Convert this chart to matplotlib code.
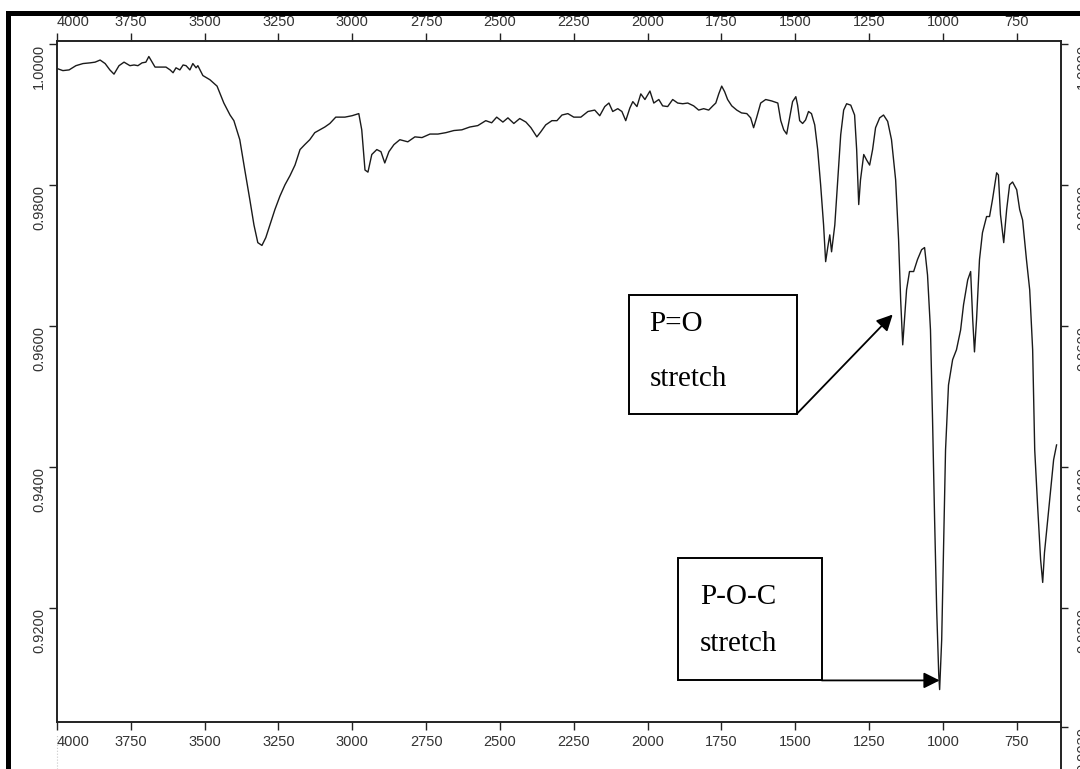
import matplotlib
matplotlib.use("Agg")
import matplotlib.pyplot as plt
from matplotlib.patches import Rectangle
from matplotlib.lines import Line2D

# FTIR spectrum (wavenumber in cm-1, transmittance)
wavenumber = [4000, 3980, 3959, 3936, 3912, 3888, 3871, 3854, 3837, 3821, 3807, 3790, 3773, 3753,
              3739, 3726, 3712, 3699, 3689, 3678, 3668, 3648, 3631, 3617, 3607, 3597, 3584, 3573,
              3563, 3550, 3540, 3529, 3523, 3506, 3482, 3458, 3435, 3414, 3401, 3381, 3364, 3347,
              3333, 3320, 3306, 3293, 3279, 3262, 3245, 3228, 3211, 3194, 3177, 3161, 3144, 3127,
              3110, 3093, 3076, 3056, 3025, 3001, 2978, 2968, 2957, 2947, 2934, 2917, 2903, 2890,
              2876, 2859, 2839, 2812, 2788, 2764, 2737, 2710, 2683, 2656, 2629, 2602, 2575, 2548,
              2528, 2511, 2490, 2473, 2453, 2433, 2412, 2395, 2375, 2362, 2345, 2324, 2307, 2290,
              2270, 2250, 2226, 2202, 2179, 2162, 2145, 2131, 2118, 2101, 2087, 2074, 2060, 2050,
              2036, 2023, 2009, 1992, 1979, 1962, 1949, 1932, 1915, 1898, 1881, 1864, 1844, 1827,
              1810, 1793, 1779, 1769, 1759, 1749, 1739, 1729, 1715, 1698, 1682, 1664, 1651, 1641,
              1631, 1617, 1600, 1580, 1559, 1549, 1539, 1529, 1519, 1509, 1498, 1492, 1485, 1475,
              1465, 1455, 1445, 1434, 1424, 1414, 1404, 1397, 1390, 1383, 1377, 1366, 1356, 1346,
              1336, 1326, 1312, 1299, 1292, 1285, 1279, 1268, 1258, 1248, 1238, 1228, 1214, 1201,
              1187, 1174, 1160, 1150, 1143, 1136, 1130, 1123, 1113, 1099, 1086, 1072, 1062, 1052,
              1042, 1035, 1028, 1021, 1014, 1011, 1004, 997, 991, 981, 967, 954, 940, 930,
              916, 906, 899, 893, 886, 876, 866, 852, 842, 832, 818, 812, 805, 794,
              784, 774, 764, 750, 740, 730, 717, 706, 696, 689, 679, 669, 662, 656,
              645, 635, 625, 615]
transmittance = [0.9965, 0.9962, 0.9963, 0.9969, 0.9972, 0.9973, 0.9974, 0.9977, 0.9972, 0.9963,
                 0.9957, 0.9969, 0.9974, 0.9969, 0.9970, 0.9969, 0.9973, 0.9974, 0.9982, 0.9974,
                 0.9967, 0.9967, 0.9967, 0.9963, 0.9959, 0.9966, 0.9963, 0.9970, 0.9969, 0.9963,
                 0.9972, 0.9966, 0.9969, 0.9955, 0.9949, 0.9940, 0.9916, 0.9899, 0.9891, 0.9864,
                 0.9821, 0.9779, 0.9743, 0.9718, 0.9714, 0.9725, 0.9743, 0.9765, 0.9784, 0.9800,
                 0.9813, 0.9828, 0.9850, 0.9857, 0.9864, 0.9874, 0.9878, 0.9882, 0.9887, 0.9896,
                 0.9896, 0.9898, 0.9901, 0.9878, 0.9821, 0.9818, 0.9843, 0.9850, 0.9847, 0.9831,
                 0.9847, 0.9857, 0.9864, 0.9861, 0.9868, 0.9867, 0.9872, 0.9872, 0.9874, 0.9877,
                 0.9878, 0.9882, 0.9884, 0.9891, 0.9888, 0.9896, 0.9889, 0.9895, 0.9887, 0.9894,
                 0.9889, 0.9881, 0.9868, 0.9875, 0.9885, 0.9891, 0.9891, 0.9899, 0.9901, 0.9896,
                 0.9896, 0.9904, 0.9906, 0.9898, 0.9911, 0.9916, 0.9904, 0.9908, 0.9904, 0.9891,
                 0.9909, 0.9918, 0.9911, 0.9929, 0.9921, 0.9933, 0.9916, 0.9921, 0.9912, 0.9911,
                 0.9921, 0.9916, 0.9915, 0.9916, 0.9912, 0.9906, 0.9908, 0.9906, 0.9912, 0.9916,
                 0.9929, 0.9940, 0.9932, 0.9921, 0.9912, 0.9906, 0.9902, 0.9901, 0.9895, 0.9881,
                 0.9895, 0.9916, 0.9921, 0.9919, 0.9916, 0.9891, 0.9878, 0.9872, 0.9895, 0.9918,
                 0.9925, 0.9913, 0.9891, 0.9887, 0.9892, 0.9904, 0.9901, 0.9885, 0.9850, 0.9800,
                 0.9743, 0.9691, 0.9711, 0.9729, 0.9705, 0.9743, 0.9807, 0.9871, 0.9906, 0.9915,
                 0.9913, 0.9899, 0.9850, 0.9772, 0.9807, 0.9843, 0.9835, 0.9828, 0.9850, 0.9881,
                 0.9895, 0.9899, 0.9890, 0.9864, 0.9807, 0.9722, 0.9637, 0.9573, 0.9610, 0.9651,
                 0.9677, 0.9677, 0.9694, 0.9708, 0.9711, 0.9672, 0.9594, 0.9467, 0.9325, 0.9197,
                 0.9105, 0.9084, 0.9155, 0.9297, 0.9424, 0.9516, 0.9552, 0.9566, 0.9594, 0.9630,
                 0.9665, 0.9677, 0.9609, 0.9563, 0.9609, 0.9694, 0.9732, 0.9755, 0.9755, 0.9779,
                 0.9817, 0.9814, 0.9758, 0.9718, 0.9765, 0.9800, 0.9804, 0.9793, 0.9765, 0.9750,
                 0.9694, 0.9651, 0.9566, 0.9424, 0.9343, 0.9268, 0.9236, 0.9278, 0.9325, 0.9368,
                 0.9410, 0.9431]

x_ticks = [4000, 3750, 3500, 3250, 3000, 2750, 2500, 2250, 2000, 1750, 1500, 1250, 1000, 750]
y_ticks = [1.0, 0.98, 0.96, 0.94, 0.92]
y_ticks_right = [1.0, 0.98, 0.96, 0.94, 0.92, 0.903]

W, H = 1080, 769
fig = plt.figure(figsize=(W / 100, H / 100), dpi=100)
fig.patch.set_facecolor("white")

tick_font = dict(family=["Liberation Sans", "DejaVu Sans"], size=10.5, color="#333333")
axis_col = "#222222"

# main plot box
ax = fig.add_axes([57 / W, 1 - 722 / H, (1061 - 57) / W, (722 - 41) / H])
ax.plot(wavenumber, transmittance, color="#1a1a1a", lw=1.0)
ax.set_xlim(4000, 600)
ax.set_ylim(0.9038, 1.0004)

for side in ["top", "bottom", "left"]:
    ax.spines[side].set_linewidth(1.4)
    ax.spines[side].set_color(axis_col)
ax.spines["right"].set_visible(False)

ax.set_xticks(x_ticks)
ax.set_xticklabels([str(v) for v in x_ticks])
ax.set_yticks(y_ticks)
ax.set_yticklabels(["%.4f" % v for v in y_ticks])
ax.tick_params(axis="x", which="both", top=True, labeltop=True, bottom=True, labelbottom=True,
               direction="out", length=6, width=1.0, color=axis_col, pad=3)
ax.tick_params(axis="y", left=True, right=False, direction="out", length=6, width=1.0,
               color=axis_col, pad=2, labelrotation=90)

for t in ax.xaxis.get_major_ticks():
    for lab in (t.label1, t.label2):
        lab.set_fontfamily(tick_font["family"])
        lab.set_fontsize(tick_font["size"])
        lab.set_color(tick_font["color"])
first = ax.xaxis.get_major_ticks()[0]
first.label1.set_horizontalalignment("left")
first.label2.set_horizontalalignment("left")

for t in ax.yaxis.get_major_ticks():
    t.label1.set_fontfamily(tick_font["family"])
    t.label1.set_fontsize(tick_font["size"])
    t.label1.set_color(tick_font["color"])
    t.label1.set_verticalalignment("top")

# right-hand axis runs past the bottom of the box
ax2 = fig.add_axes([57 / W, 0, (1061 - 57) / W, (769 - 41) / H])
ax2.patch.set_visible(False)
ax2.set_ylim(0.8971, 1.0004)
ax2.set_xticks([])
for side in ["top", "bottom", "left"]:
    ax2.spines[side].set_visible(False)
ax2.spines["right"].set_linewidth(1.4)
ax2.spines["right"].set_color(axis_col)
ax2.set_yticks(y_ticks_right)
ax2.set_yticklabels(["%.4f" % v for v in y_ticks_right])
ax2.tick_params(axis="y", left=False, labelleft=False, right=True, labelright=True,
                direction="out", length=5, width=1.0, color=axis_col, pad=6, labelrotation=90)
for t in ax2.yaxis.get_major_ticks():
    t.label2.set_fontfamily(tick_font["family"])
    t.label2.set_fontsize(tick_font["size"])
    t.label2.set_color(tick_font["color"])
    t.label2.set_verticalalignment("top")

# annotation boxes
serif = ["Liberation Serif", "DejaVu Serif"]
ax.add_patch(Rectangle((2064, 0.9475), 1495 - 2064, 0.9644 - 0.9475, fill=False,
                       edgecolor="black", lw=1.4, zorder=3))
ax.text(1993, 0.9602, "P=O", family=serif, fontsize=21, va="center", ha="left")
ax.text(1993, 0.9524, "stretch", family=serif, fontsize=21, va="center", ha="left")
ax.annotate("", xy=(1170, 0.9616), xytext=(1495, 0.9475),
            arrowprops=dict(arrowstyle="-|>", color="black", lw=1.3, mutation_scale=24,
                            shrinkA=0, shrinkB=0))

ax.add_patch(Rectangle((1898, 0.9097), 1410 - 1898, 0.9271 - 0.9097, fill=False,
                       edgecolor="black", lw=1.4, zorder=3))
ax.text(1823, 0.9216, "P-O-C", family=serif, fontsize=21, va="center", ha="left")
ax.text(1823, 0.9148, "stretch", family=serif, fontsize=21, va="center", ha="left")
ax.annotate("", xy=(1011, 0.9097), xytext=(1410, 0.9097),
            arrowprops=dict(arrowstyle="-|>", color="black", lw=1.3, mutation_scale=24,
                            shrinkA=0, shrinkB=0))

# outer frame (left and top edges) and faint guide under the x axis
fig.add_artist(Line2D([8 / W, 8 / W], [0, 1 - 12.5 / H], transform=fig.transFigure,
                      color="black", lw=3.6, solid_capstyle="projecting"))
fig.add_artist(Line2D([8 / W, 1], [1 - 12.5 / H, 1 - 12.5 / H], transform=fig.transFigure,
                      color="black", lw=3.6, solid_capstyle="projecting"))
fig.add_artist(Line2D([57 / W, 57 / W], [0, 1 - 735 / H], transform=fig.transFigure,
                      color="#c8c8c8", lw=0.8, ls=":"))

fig.savefig("out.png", dpi=100)
